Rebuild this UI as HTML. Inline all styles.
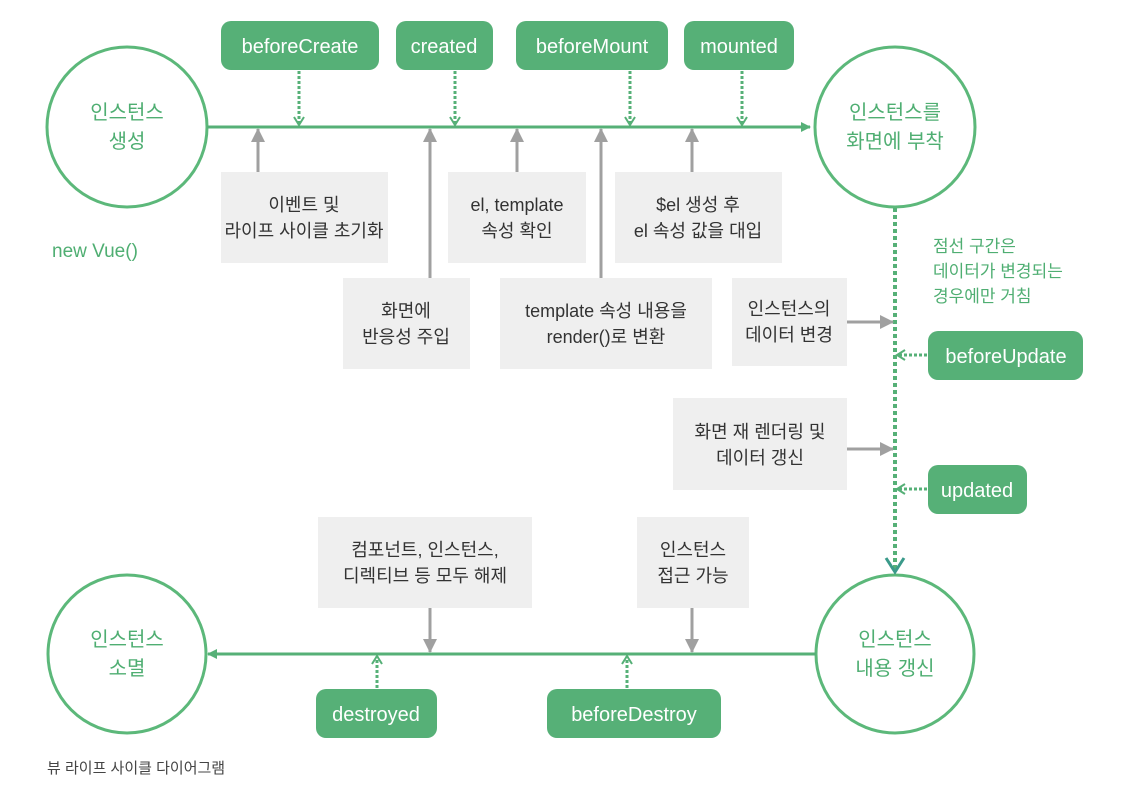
<!DOCTYPE html>
<html><head><meta charset="utf-8"><style>
body{margin:0;background:#fff;width:1140px;height:794px;overflow:hidden}
svg text{font-family:"Liberation Sans","Noto Sans CJK KR",sans-serif}
</style></head><body>
<svg width="1140" height="794" viewBox="0 0 1140 794" xmlns="http://www.w3.org/2000/svg">
<defs>
<marker id="ga" markerWidth="10" markerHeight="10" refX="9" refY="5" orient="auto" markerUnits="userSpaceOnUse"><path d="M0,0 L10,5 L0,10 Z" fill="#56b077"/></marker>
<marker id="gr" markerWidth="14" markerHeight="14" refX="13" refY="7" orient="auto" markerUnits="userSpaceOnUse"><path d="M0,0 L14,7 L0,14 Z" fill="#a0a0a0"/></marker>
<marker id="ch" markerWidth="12" markerHeight="12" refX="10" refY="6" orient="auto" markerUnits="userSpaceOnUse"><path d="M2,1 L10,6 L2,11" fill="none" stroke="#56b077" stroke-width="2"/></marker>
<marker id="cb" markerWidth="22" markerHeight="22" refX="18" refY="11" orient="auto" markerUnits="userSpaceOnUse"><path d="M4,2 L18,11 L4,20" fill="none" stroke="#3a9a8a" stroke-width="3"/></marker>
</defs>
<g fill="none" stroke="#5cb87a" stroke-width="3">
<circle cx="127" cy="127" r="80"/><circle cx="895" cy="127" r="80"/>
<circle cx="127" cy="654" r="79"/><circle cx="895" cy="654" r="79"/>
</g>
<g font-size="20" fill="#4fae72" text-anchor="middle">
<text x="127" y="119">인스턴스</text><text x="127" y="148">생성</text>
<text x="895" y="119">인스턴스를</text><text x="895" y="148">화면에 부착</text>
<text x="127" y="646">인스턴스</text><text x="127" y="675">소멸</text>
<text x="895" y="646">인스턴스</text><text x="895" y="675">내용 갱신</text>
</g>
<line x1="207" y1="127" x2="810" y2="127" stroke="#56b077" stroke-width="3" marker-end="url(#ga)"/>
<line x1="816" y1="654" x2="208" y2="654" stroke="#56b077" stroke-width="3" marker-end="url(#ga)"/>
<line x1="895" y1="208" x2="895" y2="572" stroke="#56b077" stroke-width="4" stroke-dasharray="4,3" marker-end="url(#cb)"/>
<g fill="#56b077">
<rect x="221" y="21" width="158" height="49" rx="10"/><rect x="396" y="21" width="97" height="49" rx="10"/>
<rect x="516" y="21" width="152" height="49" rx="10"/><rect x="684" y="21" width="110" height="49" rx="10"/>
<rect x="928" y="331" width="155" height="49" rx="10"/><rect x="928" y="465" width="99" height="49" rx="10"/>
<rect x="316" y="689" width="121" height="49" rx="10"/><rect x="547" y="689" width="174" height="49" rx="10"/>
</g>
<g font-size="20" fill="#fff" text-anchor="middle">
<text x="300" y="53">beforeCreate</text><text x="444" y="53">created</text>
<text x="592" y="53">beforeMount</text><text x="739" y="53">mounted</text>
<text x="1006" y="363">beforeUpdate</text><text x="977" y="497">updated</text>
<text x="376" y="721">destroyed</text><text x="634" y="721">beforeDestroy</text>
</g>
<g stroke="#56b077" stroke-width="3" stroke-dasharray="3,2" fill="none">
<line x1="299" y1="71" x2="299" y2="125" marker-end="url(#ch)"/>
<line x1="455" y1="71" x2="455" y2="125" marker-end="url(#ch)"/>
<line x1="630" y1="71" x2="630" y2="125" marker-end="url(#ch)"/>
<line x1="742" y1="71" x2="742" y2="125" marker-end="url(#ch)"/>
<line x1="927" y1="355" x2="897" y2="355" marker-end="url(#ch)"/>
<line x1="927" y1="489" x2="897" y2="489" marker-end="url(#ch)"/>
<line x1="377" y1="688" x2="377" y2="656" marker-end="url(#ch)"/>
<line x1="627" y1="688" x2="627" y2="656" marker-end="url(#ch)"/>
</g>
<g fill="#efefef">
<rect x="221" y="172" width="167" height="91"/><rect x="448" y="172" width="138" height="91"/>
<rect x="615" y="172" width="167" height="91"/><rect x="343" y="278" width="127" height="91"/>
<rect x="500" y="278" width="212" height="91"/><rect x="732" y="278" width="115" height="88"/>
<rect x="673" y="398" width="174" height="92"/><rect x="318" y="517" width="214" height="91"/>
<rect x="637" y="517" width="112" height="91"/>
</g>
<g stroke="#a0a0a0" stroke-width="3">
<line x1="258" y1="172" x2="258" y2="129" marker-end="url(#gr)"/>
<line x1="430" y1="278" x2="430" y2="129" marker-end="url(#gr)"/>
<line x1="517" y1="172" x2="517" y2="129" marker-end="url(#gr)"/>
<line x1="601" y1="278" x2="601" y2="129" marker-end="url(#gr)"/>
<line x1="692" y1="172" x2="692" y2="129" marker-end="url(#gr)"/>
<line x1="847" y1="322" x2="893" y2="322" marker-end="url(#gr)"/>
<line x1="847" y1="449" x2="893" y2="449" marker-end="url(#gr)"/>
<line x1="430" y1="608" x2="430" y2="652" marker-end="url(#gr)"/>
<line x1="692" y1="608" x2="692" y2="652" marker-end="url(#gr)"/>
</g>
<g font-size="18" fill="#333" text-anchor="middle">
<text x="304" y="211">이벤트 및</text><text x="304" y="237">라이프 사이클 초기화</text>
<text x="517" y="211">el, template</text><text x="517" y="237">속성 확인</text>
<text x="698" y="211">$el 생성 후</text><text x="698" y="237">el 속성 값을 대입</text>
<text x="406" y="317">화면에</text><text x="406" y="343">반응성 주입</text>
<text x="606" y="317">template 속성 내용을</text><text x="606" y="343">render()로 변환</text>
<text x="789" y="315">인스턴스의</text><text x="789" y="341">데이터 변경</text>
<text x="760" y="438">화면 재 렌더링 및</text><text x="760" y="464">데이터 갱신</text>
<text x="425" y="556">컴포넌트, 인스턴스,</text><text x="425" y="582">디렉티브 등 모두 해제</text>
<text x="693" y="556">인스턴스</text><text x="693" y="582">접근 가능</text>
</g>
<g font-size="17" fill="#4fae72">
<text x="933" y="252">점선 구간은</text><text x="933" y="277">데이터가 변경되는</text><text x="933" y="302">경우에만 거침</text>
<text x="52" y="257" font-size="19">new Vue()</text>
</g>
<text x="47" y="773" font-size="15" fill="#444">뷰 라이프 사이클 다이어그램</text>
</svg>
</body></html>
